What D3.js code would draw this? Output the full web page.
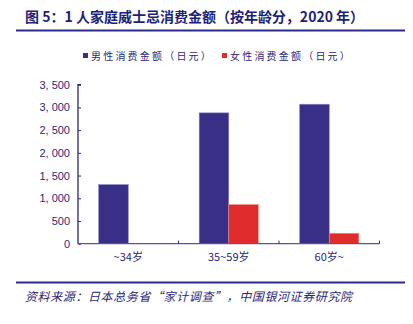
<!DOCTYPE html>
<html>
<head>
<meta charset="utf-8">
<script src="https://cdn.jsdelivr.net/npm/d3@7"></script>
<style>
  html, body { margin: 0; padding: 0; background: #ffffff; }
  svg { display: block; }
</style>
</head>
<body>
<svg id="chart" width="413" height="324"></svg>
<script>
// Age groups and spending per one-person household (JPY)
const categories = ["~34岁", "35~59岁", "60岁~"];
const maleValues = [1300, 2880, 3070];
const femaleValues = [10, 860, 230];
const seriesNames = ["男性消费金额（日元）", "女性消费金额（日元）"];
const yTicks = [0, 500, 1000, 1500, 2000, 2500, 3000, 3500];

const navy = "#2b2878";
const maleColor = "#3a2f86";
const femaleColor = "#e02d2c";
const cjk = "'Noto Sans CJK SC', 'Noto Sans', sans-serif";

const svg = d3.select("#chart");

// Title and rules
svg.append("text")
  .attr("x", 25).attr("y", 22)
  .attr("font-family", cjk).attr("font-weight", "bold")
  .attr("font-size", 14).attr("fill", "#1d1f78")
  .text("图 5：1 人家庭威士忌消费金额（按年龄分，2020 年）");
svg.append("line").attr("x1", 16).attr("x2", 405).attr("y1", 30.5).attr("y2", 30.5)
  .attr("stroke", "#2a2a8c").attr("stroke-width", 2);
svg.append("line").attr("x1", 16).attr("x2", 405).attr("y1", 282.5).attr("y2", 282.5)
  .attr("stroke", "#2a2a8c").attr("stroke-width", 2);

// Source note
svg.append("text")
  .attr("x", 25).attr("y", 301)
  .attr("font-family", cjk).attr("font-style", "italic")
  .attr("font-size", 12).attr("letter-spacing", 0.6).attr("fill", navy)
  .text("资料来源：日本总务省“家计调查”，中国银河证券研究院");

// Scales
const x0 = d3.scaleBand().domain(categories).range([78, 379.5]).paddingInner(0).paddingOuter(0);
const x1 = d3.scaleBand().domain([0, 1]).range([0, x0.bandwidth()]).paddingInner(0).paddingOuter(0.7);
const y = d3.scaleLinear().domain([0, 3500]).range([243.7, 84.7]);

// Y axis
const yAxis = d3.axisLeft(y).tickValues(yTicks).tickSize(-3).tickPadding(8)
  .tickFormat(d => d3.format(",")(d).replace(",", ", "));
const gy = svg.append("g").attr("transform", "translate(78,0)").call(yAxis);
gy.select(".domain").attr("stroke", navy).attr("stroke-width", 1.3)
  .attr("d", `M3,${y(3500)}H0V${y(0)}`);
gy.selectAll(".tick line").attr("stroke", navy);
gy.selectAll(".tick text").attr("font-family", "'Liberation Sans', Arial, sans-serif")
  .attr("font-size", 11).attr("fill", navy);

// Bars
const groups = svg.append("g").selectAll("g")
  .data(categories.map((c, i) => ({ c, vals: [maleValues[i], femaleValues[i]] })))
  .join("g")
  .attr("transform", d => `translate(${x0(d.c)},0)`);
groups.selectAll("rect")
  .data(d => d.vals.map((v, k) => ({ v, k })))
  .join("rect")
  .attr("x", d => x1(d.k))
  .attr("width", x1.bandwidth())
  .attr("y", d => y(d.v))
  .attr("height", d => y(0) - y(d.v))
  .attr("fill", d => d.k === 0 ? maleColor : femaleColor)
  .attr("stroke", d => d.k === 0 ? "#8a84c4" : "#f08a88")
  .attr("stroke-width", 0.6);

// X axis
const xAxis = d3.axisBottom(x0).tickSize(0).tickPadding(10);
const gx = svg.append("g").attr("transform", `translate(0,${y(0)})`).call(xAxis);
gx.select(".domain").attr("stroke", "#5a52a8").attr("stroke-width", 1.3)
  .attr("d", `M78,0H379.5`);
gx.selectAll(".tick text").attr("font-family", cjk)
  .attr("font-size", 11).attr("fill", navy);
// Category boundary ticks
const bounds = categories.map(c => x0(c) + x0.bandwidth());
svg.append("g").selectAll("line").data(bounds).join("line")
  .attr("x1", d => d).attr("x2", d => d)
  .attr("y1", y(0)).attr("y2", y(0) - 3)
  .attr("stroke", navy).attr("stroke-width", 1);

// Legend
const legend = svg.append("g");
const legendPos = [83, 222];
seriesNames.forEach((name, i) => {
  legend.append("rect").attr("x", legendPos[i]).attr("y", 53)
    .attr("width", 5).attr("height", 5)
    .attr("fill", i === 0 ? maleColor : femaleColor);
  legend.append("text").attr("x", legendPos[i] + 8).attr("y", 59.5)
    .attr("font-family", cjk).attr("font-size", 10)
    .attr("letter-spacing", 2.2).attr("fill", navy)
    .text(name);
});
</script>
</body>
</html>
